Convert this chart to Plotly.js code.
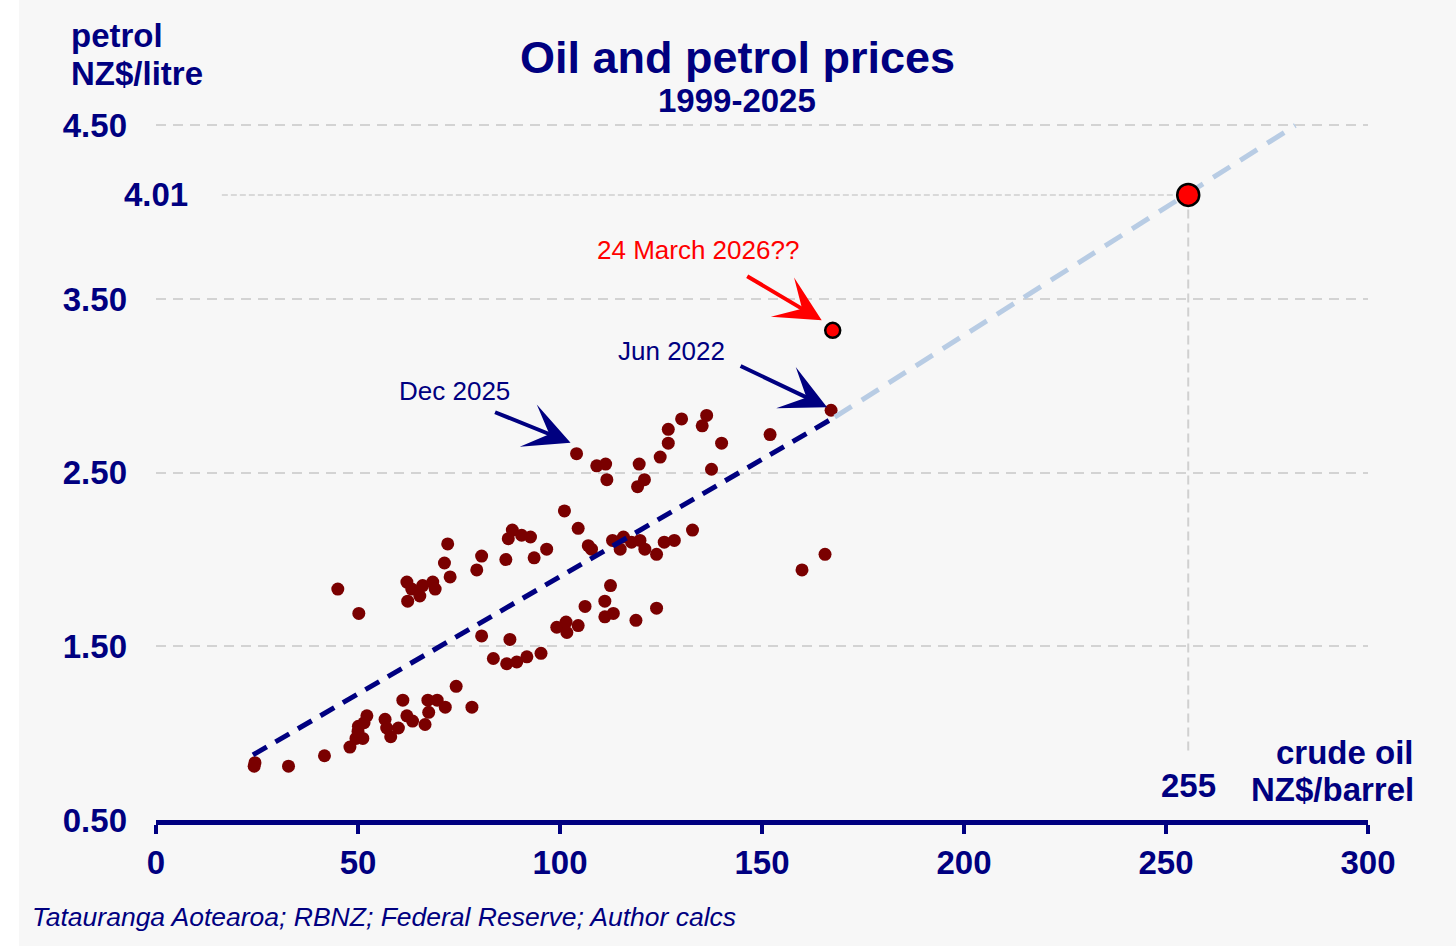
<!DOCTYPE html>
<html>
<head>
<meta charset="utf-8">
<script src="https://cdn.plot.ly/plotly-3.0.1.min.js"></script>
<style>
  body { margin: 0; background: #ffffff; }
  #chart { position: absolute; left: 19px; top: 0; width: 1437px; height: 946px; }
</style>
</head>
<body>
<div id="chart"></div>
<script>
// crude oil NZ$/barrel vs petrol NZ$/litre
const oilPrice = [
  24.3, 24.5, 32.8, 41.7, 48.0, 49.5, 51.2, 50.0, 50.1, 51.5, 52.2,
  56.7, 57.1, 58.1, 60.0, 62.1, 63.5, 61.1, 66.6, 67.5, 67.3, 69.6, 71.6, 74.3, 78.2,
  45.0, 50.2, 62.1, 63.3, 62.3, 66.0, 65.3, 68.5, 69.1, 71.4, 72.2, 72.8,
  79.4, 80.6, 86.6, 87.2, 88.2, 90.5, 92.7, 93.6, 96.7,
  80.6, 87.6, 83.5, 86.8, 89.3, 91.8, 95.3,
  99.2, 101.5, 101.7, 104.5,
  101.1, 104.5, 107.0, 107.8, 113.0, 115.7, 117.7, 119.8, 121.0, 123.9, 114.9,
  125.8, 128.3, 132.8,
  112.5, 111.1, 111.1, 113.2, 106.2, 118.8, 123.9,
  104.1, 109.1, 111.3, 111.6, 119.6, 119.2, 120.9,
  124.8, 126.8, 126.8, 130.1, 136.3, 135.2, 140.0, 137.5,
  152.0, 159.9, 165.6, 167.1
];
const petrolPrice = [
  0.81, 0.83, 0.81, 0.87, 0.92, 0.97, 0.97, 1.01, 1.04, 1.06, 1.10,
  1.08, 1.03, 0.98, 1.03, 1.10, 1.07, 1.19, 1.05, 1.12, 1.19, 1.19, 1.15, 1.27, 1.15,
  1.83, 1.69, 1.87, 1.83, 1.76, 1.85, 1.79, 1.87, 1.83, 1.98, 2.09, 1.90,
  1.94, 2.02, 2.00, 2.12, 2.17, 2.14, 2.13, 2.01, 2.06,
  1.56, 1.54, 1.43, 1.40, 1.41, 1.44, 1.46,
  1.61, 1.64, 1.58, 1.62,
  2.28, 2.18, 2.08, 2.06, 2.11, 2.13, 2.10, 2.11, 2.06, 2.03, 2.06,
  2.10, 2.11, 2.17,
  1.85, 1.76, 1.67, 1.69, 1.73, 1.65, 1.72,
  2.61, 2.54, 2.55, 2.46, 2.55, 2.42, 2.46,
  2.59, 2.67, 2.75, 2.81, 2.83, 2.77, 2.67, 2.52,
  2.72, 1.94, 2.03, 2.86
];

// fitted line and its extension
const trendOil = [24, 168];
const trendPetrol = [0.875, 2.82];
const extOil = [168, 282];
const extPetrol = [2.82, 4.5];

// highlighted points
const marchOil = 167.5, marchPetrol = 3.32;
const predOil = 255.5, predPetrol = 4.1;
const predOilLabel = '255', predPetrolLabel = '4.01';

const dec2025 = [104.1, 2.61];
const jun2022 = [167.1, 2.86];

const yTicks = [0.5, 1.5, 2.5, 3.5, 4.5];
const yTickText = ['0.50', '1.50', '2.50', '3.50', '4.50'];
const xTicks = [0, 50, 100, 150, 200, 250, 300];

const NAVY = '#000080';
const FONT = 'Liberation Sans, Arial, sans-serif';

const traces = [
  {
    x: oilPrice, y: petrolPrice, type: 'scatter', mode: 'markers',
    marker: { color: '#7a0000', size: 13 },
    hoverinfo: 'x+y'
  },
  {
    x: trendOil, y: trendPetrol, type: 'scatter', mode: 'lines',
    line: { color: NAVY, width: 5, dash: '16px,10px' }
  },
  {
    x: extOil, y: extPetrol, type: 'scatter', mode: 'lines',
    line: { color: '#b8cce4', width: 5, dash: '20px,12px' }
  },
  {
    x: [marchOil], y: [marchPetrol], type: 'scatter', mode: 'markers',
    marker: { color: '#ff0000', size: 15, line: { color: '#000000', width: 2.5 } }
  },
  {
    x: [predOil], y: [predPetrol], type: 'scatter', mode: 'markers',
    marker: { color: '#ff0000', size: 22, line: { color: '#000000', width: 2.5 } }
  }
];

const txt = (text, x, y, opts) => Object.assign({
  text: text, x: x, y: y, xref: 'paper', yref: 'paper',
  showarrow: false, xanchor: 'center', yanchor: 'middle',
  font: { family: FONT, size: 33, color: NAVY, weight: 'bold' }
}, opts || {});

const arrow = (pt, ax, ay, xs, ys, color) => ({
  x: pt[0], y: pt[1], xref: 'x', yref: 'y', text: '',
  showarrow: true, arrowhead: 3, arrowsize: 1.9, arrowwidth: 4,
  arrowcolor: color, ax: ax, ay: ay, standoff: 0, xshift: xs, yshift: ys
});

const annotations = [
  txt('Oil and petrol prices', 0.4794, 1.0931, { font: { family: FONT, size: 45, color: NAVY, weight: 'bold' } }),
  txt('1999-2025', 0.4794, 1.0301),
  txt('petrol', -0.0718, 1.1246, { xanchor: 'left' }),
  txt('NZ$/litre', -0.0718, 1.0702, { xanchor: 'left' }),
  txt('crude oil', 1.0396, 0.0974, { xanchor: 'right' }),
  txt('NZ$/barrel', 1.0396, 0.043, { xanchor: 'right' }),
  txt(predOilLabel, predOil, 0.0501, { xref: 'x' }),
  txt(predPetrolLabel, 0.0004, predPetrol, { yref: 'y' }),
  txt('Tatauranga Aotearoa; RBNZ; Federal Reserve; Author calcs', -0.104, -0.139, {
    xanchor: 'left', font: { family: FONT, size: 26.5, color: NAVY, style: 'italic' }
  }),
  txt('24 March 2026??', 134.2, 3.785, { xref: 'x', yref: 'y', font: { family: FONT, size: 26, color: '#ff0000' } }),
  txt('Jun 2022', 127.7, 3.203, { xref: 'x', yref: 'y', font: { family: FONT, size: 26, color: NAVY } }),
  txt('Dec 2025', 74.0, 2.973, { xref: 'x', yref: 'y', font: { family: FONT, size: 26, color: NAVY } }),
  arrow(dec2025, -77, -31, -6, 11, NAVY),
  arrow(jun2022, -88, -42, -4, 3, NAVY),
  arrow([marchOil, marchPetrol], -76, -45, -11, 10, '#ff0000')
];

const shapes = [
  {
    type: 'line', xref: 'x', yref: 'y', x0: 16.3, x1: predOil, y0: predPetrol, y1: predPetrol,
    line: { color: '#d0d0d0', width: 1.5, dash: '6px,3px' }, layer: 'below'
  },
  {
    type: 'line', xref: 'x', yref: 'y', x0: predOil, x1: predOil, y0: 0.9, y1: predPetrol,
    line: { color: '#d0d0d0', width: 2, dash: '9px,5px' }, layer: 'below'
  }
];

const layout = {
  width: 1437, height: 946,
  paper_bgcolor: '#f7f7f7', plot_bgcolor: '#f7f7f7',
  margin: { l: 137, r: 88, t: 122, b: 126 },
  showlegend: false,
  font: { family: FONT, color: NAVY },
  xaxis: {
    range: [0, 300], tickvals: xTicks, showgrid: false, zeroline: false,
    showline: true, linecolor: NAVY, linewidth: 5,
    ticks: 'outside', ticklen: 9, tickwidth: 4, tickcolor: NAVY,
    ticklabelstandoff: 0,
    tickfont: { family: FONT, size: 33, color: NAVY, weight: 'bold' }
  },
  yaxis: {
    range: [0.5, 4.52], tickvals: yTicks, ticktext: yTickText,
    showgrid: true, gridcolor: '#d3d3d3', gridwidth: 2, griddash: '10px,7px',
    zeroline: false, showline: false, ticks: '',
    ticklabelstandoff: 28,
    tickfont: { family: FONT, size: 33, color: NAVY, weight: 'bold' }
  },
  annotations: annotations,
  shapes: shapes
};

Plotly.newPlot('chart', traces, layout, { displayModeBar: false, staticPlot: true });
</script>
</body>
</html>
